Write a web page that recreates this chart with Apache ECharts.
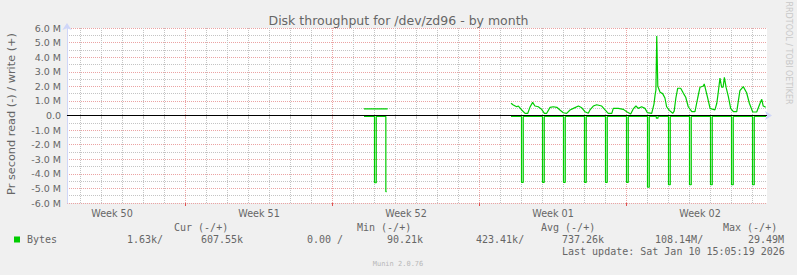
<!DOCTYPE html>
<html><head><meta charset="utf-8">
<script src="https://cdn.jsdelivr.net/npm/echarts@6/dist/echarts.min.js"></script>
<style>html,body{margin:0;padding:0;background:#f0f0f0;}#c{width:797px;height:275px;}</style>
</head><body><div id="c"></div>
<script>
// x values: days since Sun 2025-12-07 00:00 (local)
const xMin = 1.357, xMax = 34.69;
const dayTicks = [2,3,4,5,6,7,8,9,10,11,12,13,14,15,16,17,18,19,20,21,22,23,24,25,26,27,28,29,30,31,32,33,34];
const weekStarts = [7,14,21,28];
const weekLabelAt = [3.5,10.5,17.5,24.5,31.5];
const weekLabels = ['Week 50','Week 51','Week 52','Week 01','Week 02'];
const title = 'Disk throughput for /dev/zd96 - by month';
const yName = 'Pr second read (-) / write (+)';
const seriesName = 'Bytes';

// write (+), values in M bytes/s — two recorded segments
const write1Times = [15.5,16.625];
const write1Values = [0.45,0.45];
const write2Times = [22.50,22.61,22.77,22.85,23.01,23.17,23.30,23.40,23.53,23.64,23.80,23.96,24.09,24.20,24.36,24.51,24.68,24.83,24.99,25.15,25.31,25.47,25.71,25.87,26.02,26.18,26.26,26.42,26.58,26.82,26.98,27.13,27.30,27.37,27.61,27.85,28.01,28.20,28.32,28.45,28.56,28.72,28.88,28.99,29.20,29.31,29.36,29.40,29.44,29.49,29.60,29.72,29.83,29.91,30.04,30.20,30.27,30.35,30.44,30.58,30.71,30.82,30.94,31.11,31.26,31.39,31.50,31.66,31.70,31.74,31.85,31.98,32.21,32.30,32.37,32.45,32.53,32.60,32.66,32.74,32.85,32.96,33.09,33.25,33.40,33.56,33.72,33.85,34.01,34.20,34.36,34.44,34.51,34.63];
const write2Values = [0.84,0.72,0.60,0.65,0.38,0.15,0.15,0.56,0.90,0.65,0.60,0.42,0.15,0.15,0.56,0.60,0.56,0.38,0.19,0.15,0.38,0.49,0.65,0.53,0.26,0.15,0.38,0.65,0.74,0.65,0.38,0.15,0.15,0.49,0.49,0.42,0.26,0.10,0.45,0.65,0.49,0.60,0.49,0.20,0.15,0.80,1.40,1.75,5.45,2.00,1.60,1.50,1.20,0.60,0.35,0.15,0.30,1.20,1.87,1.87,1.52,1.25,0.60,0.26,0.26,1.20,1.94,2.02,2.16,1.94,1.29,0.49,0.38,0.84,1.60,2.57,1.94,1.94,2.62,1.94,1.29,0.49,0.26,0.26,1.70,1.98,1.56,0.84,0.24,0.24,0.84,1.11,0.65,0.56];

// read (-), held values (step) — two recorded segments
const read1Times = [15.5,16.0,16.083,16.54,16.58];
const read1Values = [-0.06,-4.61,-0.06,-5.22,-5.22];
const read2Times = [22.50,23,23.083,24,24.083,25,25.083,26,26.083,27,27.083,28,28.083,29,29.083,29.42,29.5,30,30.083,31,31.083,32,32.083,33,33.083,34,34.083,34.64];
const read2Values = [-0.06,-4.58,-0.06,-4.58,-0.06,-4.58,-0.06,-4.58,-0.06,-4.58,-0.06,-4.58,-0.06,-4.92,-0.06,-0.18,-0.06,-4.75,-0.06,-4.75,-0.06,-4.75,-0.06,-4.75,-0.06,-4.75,-0.06,-0.06];

const legendHeaders = ['Cur (-/+)','Min (-/+)','Avg (-/+)','Max (-/+)'];
const legendValues = ['1.63k/','607.55k','0.00 /','90.21k','423.41k/','737.26k','108.14M/','29.49M'];
const lastUpdate = 'Last update: Sat Jan 10 15:05:19 2026';
const footer = 'Munin 2.0.76';
const watermark = 'RRDTOOL / TOBI OETIKER';

const GREEN = '#00cc00', FONT = '#666666', AXIS = '#cfd6f8';
const RED_GRID = '#eba3a3', GREY_GRID = '#c4c4c4';
const mono = '"DejaVu Sans Mono", monospace';
const sans = '"DejaVu Sans", sans-serif';

const pair = (ts, vs) => ts.map((t, i) => [t, vs[i]]);

const headerX = [174, 357, 541, 723];
const valueX = [127, 201, 307, 387, 476, 562, 655, 748];
const graphics = [
  {type:'text', x:11, y:114, rotation:Math.PI/2, style:{text:yName, fontSize:11.3, fontFamily:sans, fill:FONT, align:'center', verticalAlign:'middle'}},
  {type:'text', x:788.5, y:53, rotation:-Math.PI/2, style:{text:watermark, fontSize:8, fontFamily:sans, fill:'#c8c8c8', align:'center', verticalAlign:'middle'}},
  {type:'text', x:562, y:251, style:{text:lastUpdate, fontSize:10, fontFamily:mono, fill:FONT, align:'left', verticalAlign:'middle'}},
  {type:'text', x:398, y:264, style:{text:footer, fontSize:7, fontFamily:mono, fill:'#b8b8b8', align:'center', verticalAlign:'middle'}}
];
legendHeaders.forEach((t, i) => graphics.push({type:'text', x:headerX[i], y:227.7, style:{text:t, fontSize:10, fontFamily:mono, fill:FONT, align:'left', verticalAlign:'middle'}}));
legendValues.forEach((t, i) => graphics.push({type:'text', x:valueX[i], y:239.3, style:{text:t, fontSize:10, fontFamily:mono, fill:FONT, align:'left', verticalAlign:'middle'}}));

const lineSeries = (times, values, step) => ({
  name:seriesName, type:'line', z:3, data:pair(times, values), step:step, showSymbol:false, symbol:'none',
  color:GREEN, itemStyle:{color:GREEN}, lineStyle:{color:GREEN, width:1.2}
});
const s0 = lineSeries(read1Times, read1Values, 'end');
s0.markLine = {silent:true, symbol:'none', label:{show:false}, lineStyle:{color:'#000000', width:1, type:'solid'}, data:[{yAxis:0}]};

// vertical dotted grid lines drawn through the axis scale
const vGrid = (name, values, color) => ({
  name:name, type:'custom', z:1, silent:true, data:values.map(v => [v, 0]),
  renderItem:(params, api) => {
    const top = api.coord([api.value(0), 6]);
    const bot = api.coord([api.value(0), -6]);
    const x = Math.floor(top[0]) + 0.5;
    return {type:'line', shape:{x1:x, y1:top[1], x2:x, y2:bot[1]}, style:{stroke:color, lineWidth:1, lineDash:[1,1]}};
  }
});

const chart = echarts.init(document.getElementById('c'), null, {renderer:'svg'});
chart.setOption({
  animation:false,
  backgroundColor:'#f0f0f0',
  title:{text:title, left:'center', top:9, textStyle:{fontSize:12.5, fontWeight:'normal', color:FONT, fontFamily:sans}},
  legend:{data:[seriesName], left:14, top:234.5, padding:0, icon:'rect', itemWidth:6, itemHeight:6, textStyle:{fontFamily:mono, fontSize:10, color:FONT, padding:[0,0,0,2]}},
  grid:{left:67, top:28, width:700, height:175, show:true, backgroundColor:'#ffffff', borderWidth:0},
  xAxis:[
    {type:'value', min:xMin, max:xMax,
     axisLine:{show:true, lineStyle:{color:AXIS, width:1}, symbol:['none','arrow'], symbolSize:[7,7], symbolOffset:[0,5]},
     axisTick:{show:true, customValues:dayTicks, length:3, lineStyle:{color:'#bbbbbb'}},
     axisLabel:{show:true, customValues:weekLabelAt, margin:5, fontSize:9.6, fontFamily:sans, color:FONT,
       formatter:(v) => { const i = weekLabelAt.indexOf(v); return i >= 0 ? weekLabels[i] : ''; }},
     splitLine:{show:false}},
    {type:'value', min:xMin, max:xMax, position:'bottom',
     axisLine:{show:false},
     axisTick:{show:true, customValues:weekStarts, length:3, lineStyle:{color:'#e05050'}},
     axisLabel:{show:false},
     splitLine:{show:false}}
  ],
  yAxis:{type:'value', min:-6, max:6, interval:1,
    axisLine:{show:true, lineStyle:{color:AXIS, width:1}, symbol:['none','arrow'], symbolSize:[7,7], symbolOffset:[0,5]},
    axisTick:{show:false},
    axisLabel:{margin:6, fontSize:9.5, fontFamily:sans, color:FONT, formatter:(v) => v === 0 ? '0.0' : v.toFixed(1) + ' M'},
    splitLine:{show:true, lineStyle:{color:RED_GRID, type:[1,1], width:1}},
    minorTick:{show:false, splitNumber:2},
    minorSplitLine:{show:true, lineStyle:{color:GREY_GRID, type:[1,1], width:1}}},
  graphic:graphics,
  series:[
    vGrid('dayGrid', dayTicks, GREY_GRID),
    vGrid('weekGrid', weekStarts, RED_GRID),
    s0,
    lineSeries(read2Times, read2Values, 'end'),
    lineSeries(write1Times, write1Values, false),
    lineSeries(write2Times, write2Values, false)
  ]
});
</script></body></html>
